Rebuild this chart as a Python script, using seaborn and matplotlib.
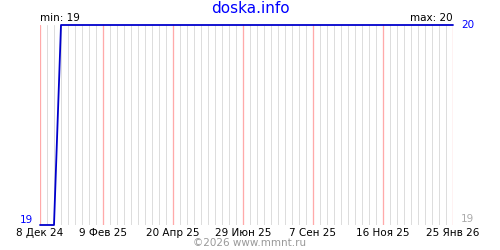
import matplotlib
matplotlib.use("Agg")
import matplotlib.pyplot as plt
import seaborn as sns
import pandas as pd

# --- data ---
dates = pd.date_range("2024-12-08", "2026-01-25", freq="7D")
values = [19, 19, 19] + [20] * (len(dates) - 3)
tick_dates = ["2024-12-08", "2025-02-09", "2025-04-20", "2025-06-29",
              "2025-09-07", "2025-11-16", "2026-01-25"]
tick_labels = ["8 Дек 24", "9 Фев 25", "20 Апр 25", "29 Июн 25",
               "7 Сен 25", "16 Ноя 25", "25 Янв 26"]
title = "doska.info"
y_min, y_max = 19, 20

df = pd.DataFrame({"date": dates, "value": values})

sns.set_theme(style="white")
plt.rcParams["font.family"] = ["DejaVu Sans"]

fig = plt.figure(figsize=(5, 2.5), dpi=100)
ax = fig.add_axes([0.08, 0.1, 0.826, 0.8])

px = 72 / 100  # one pixel in points
tick_ts = set(pd.to_datetime(tick_dates))
for d in dates:
    pink = d in tick_ts
    ax.axvline(d, color="#ffaaaa" if pink else "#dddddd", lw=px * (1.3 if pink else 1),
               zorder=2 if pink else 1, snap=True)
ax.axhline(y_min, color="#dddddd", lw=px, zorder=1, snap=True)

sns.lineplot(data=df, x="date", y="value", ax=ax, color="#0000cc", lw=1.3,
             zorder=3, clip_on=False)

ax.set_xlim(dates[0], dates[-1])
ax.set_ylim(y_min, y_max)
for s in ax.spines.values():
    s.set_visible(False)
ax.set_xticks(sorted(tick_ts))
ax.set_xticklabels(tick_labels, fontsize=7.5, color="black")
ax.tick_params(axis="x", length=0, pad=2)
ax.set_yticks([])
ax.set_xlabel("")
ax.set_ylabel("")

fig.text(0.5, 0.965, title, ha="center", va="center", color="#0000ff", fontsize=11)
ax.text(0.0, 1.01, f"min: {min(values)}", transform=ax.transAxes, ha="left",
        va="bottom", fontsize=7.5, color="black")
ax.text(1.0, 1.01, f"max: {max(values)}", transform=ax.transAxes, ha="right",
        va="bottom", fontsize=7.5, color="black")
ax.text(1.02, 1.0, str(y_max), transform=ax.transAxes, ha="left", va="center",
        fontsize=7.5, color="#0000ff")
ax.text(-0.018, 0.0, str(y_min), transform=ax.transAxes, ha="right", va="bottom",
        fontsize=7.5, color="#0000ff")
ax.text(1.02, 0.005, str(y_min), transform=ax.transAxes, ha="left", va="bottom",
        fontsize=7.5, color="#aaaaaa")
fig.text(0.5, 0.028, "©2026 www.mmnt.ru", ha="center", va="center",
         fontsize=7.5, color="#999999")

fig.savefig("out.png", dpi=100, facecolor="white")
